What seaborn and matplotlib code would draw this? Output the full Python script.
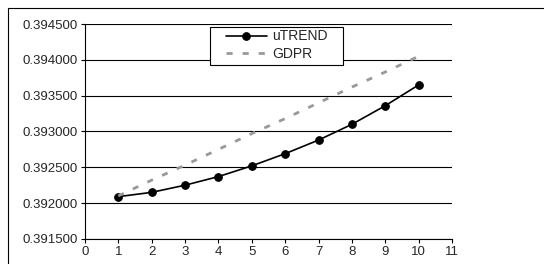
import matplotlib
matplotlib.use('Agg')
import matplotlib.pyplot as plt
import pandas as pd
import seaborn as sns

# data
steps = [1, 2, 3, 4, 5, 6, 7, 8, 9, 10]
utrend = [0.39209, 0.39215, 0.39225, 0.39237, 0.39252, 0.39269, 0.39288, 0.39310, 0.39336, 0.39365]
gdpr = [0.39210, 0.39232, 0.39253, 0.39275, 0.39297, 0.39318, 0.39340, 0.39362, 0.39383, 0.39405]

y_ticks = [0.3915, 0.392, 0.3925, 0.393, 0.3935, 0.394, 0.3945]
x_ticks = list(range(0, 12))

df = pd.DataFrame({'step': steps, 'uTREND': utrend, 'GDPR': gdpr})

sns.set_style('white')
plt.rcParams['font.family'] = ['Liberation Sans', 'DejaVu Sans']

fig = plt.figure(figsize=(5.44, 2.64), dpi=100)
ax = fig.add_axes([0.156, 0.095, 0.675, 0.814])

sns.lineplot(data=df, x='step', y='uTREND', ax=ax, color='black', linewidth=1.2,
             marker='o', markersize=5.5, markeredgecolor='black', label='uTREND')
sns.lineplot(data=df, x='step', y='GDPR', ax=ax, color='#999999', linewidth=2,
             linestyle=(0, (2.2, 3.6)), label='GDPR')

ax.set_xlim(0, 11)
ax.set_ylim(0.3915, 0.3945)
ax.set_xticks(x_ticks)
ax.set_yticks(y_ticks)
ax.set_yticklabels([f'{v:.6f}' for v in y_ticks])
ax.set_xlabel('')
ax.set_ylabel('')
ax.tick_params(axis='both', labelsize=9.5, direction='out', length=3, width=0.8,
               color='black', left=True, bottom=True, pad=2)

ax.grid(axis='y', color='black', linewidth=0.8)
ax.set_axisbelow(True)
for side in ['top', 'right']:
    ax.spines[side].set_visible(False)
for side in ['left', 'bottom']:
    ax.spines[side].set_color('black')
    ax.spines[side].set_linewidth(0.8)

# legend entries without frame, box drawn separately to get the wide padding
ax.legend(loc='upper left', bbox_to_anchor=(0.385, 0.975), fontsize=10,
          frameon=False, handlelength=2.9, handletextpad=0.4,
          borderpad=0, borderaxespad=0, labelspacing=0.25)
ax.add_patch(plt.Rectangle((0.341, 0.809), 0.362, 0.177, transform=ax.transAxes,
                           facecolor='white', edgecolor='black', linewidth=0.8,
                           zorder=4))

# outer chart border
fig.add_artist(plt.Rectangle((8 / 544, -0.05), 1.05, 1 - 8 / 264 + 0.05,
                             transform=fig.transFigure, fill=False,
                             edgecolor='black', linewidth=0.8))

plt.savefig('out.png', dpi=100)
